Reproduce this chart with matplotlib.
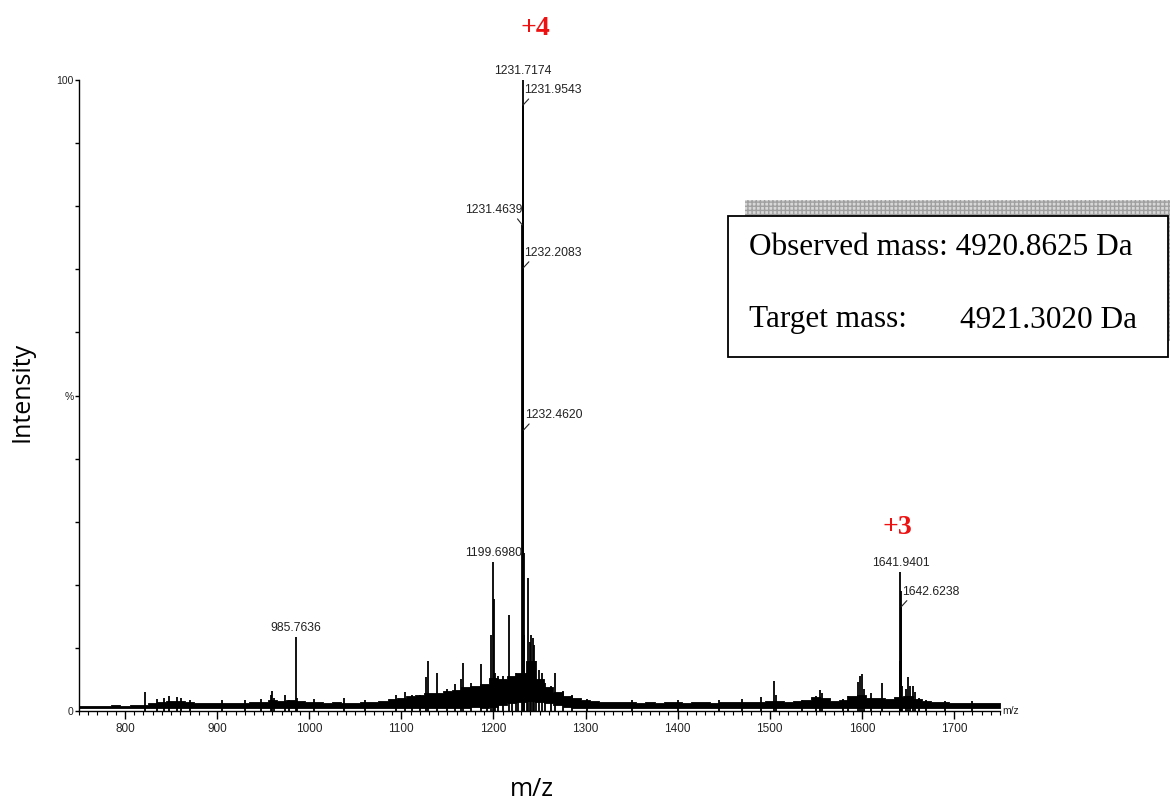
import numpy as np
import matplotlib
matplotlib.use("Agg")
import matplotlib.pyplot as plt
from matplotlib.patches import Rectangle

# ---------------------------------------------------------------------------
# Spectrum data
# ---------------------------------------------------------------------------

# baseline noise envelope, every 10 m/z from 750 to 1750 (% intensity)
noise_mz = list(range(750, 1751, 10))
noise_hi = [
    0.8, 0.8, 0.8, 0.8, 0.9, 0.8, 0.9, 0.9, 1.3, 1.4,   # 750-840
    1.6, 1.6, 1.4, 1.3, 1.3, 1.2, 1.3, 1.2, 1.3, 1.4,   # 850-940
    1.5, 1.8, 1.6, 1.7, 1.6, 1.5, 1.4, 1.3, 1.4, 1.3,   # 950-1040
    1.3, 1.4, 1.5, 1.6, 1.9, 2.1, 2.3, 2.5, 2.8, 2.9,   # 1050-1140
    3.2, 3.3, 3.8, 3.9, 4.2, 5.2, 5.0, 5.5, 6.0, 8.0,   # 1150-1240
    5.0, 3.8, 3.0, 2.4, 2.0, 1.7, 1.6, 1.5, 1.4, 1.4,   # 1250-1340
    1.4, 1.3, 1.4, 1.3, 1.4, 1.4, 1.3, 1.4, 1.4, 1.3,   # 1350-1440
    1.4, 1.4, 1.5, 1.4, 1.5, 1.6, 1.6, 1.5, 1.6, 1.7,   # 1450-1540
    2.2, 2.0, 1.6, 1.7, 2.3, 2.5, 2.1, 2.0, 1.9, 2.2,   # 1550-1640
    2.4, 1.9, 1.6, 1.5, 1.4, 1.3, 1.3, 1.3, 1.3, 1.3,   # 1650-1740
    1.2,                                                # 1750
]
noise_lo = [
    0.4, 0.4, 0.4, 0.4, 0.4, 0.4, 0.4, 0.4, 0.4, 0.4,
    0.4, 0.4, 0.4, 0.4, 0.4, 0.4, 0.4, 0.4, 0.4, 0.4,
    0.4, 0.4, 0.4, 0.4, 0.4, 0.4, 0.4, 0.4, 0.4, 0.4,
    0.4, 0.4, 0.4, 0.4, 0.4, 0.4, 0.4, 0.4, 0.4, 0.4,
    0.4, 0.4, 0.5, 0.6, 0.5, 0.6, 0.9, 1.2, 1.5, 1.6,
    1.5, 1.2, 0.9, 0.6, 0.5, 0.4, 0.4, 0.4, 0.4, 0.4,
    0.4, 0.4, 0.4, 0.4, 0.4, 0.4, 0.4, 0.4, 0.4, 0.4,
    0.4, 0.4, 0.4, 0.4, 0.4, 0.4, 0.4, 0.4, 0.4, 0.4,
    0.4, 0.4, 0.4, 0.4, 0.4, 0.4, 0.4, 0.4, 0.4, 0.4,
    0.4, 0.4, 0.4, 0.4, 0.4, 0.4, 0.4, 0.4, 0.4, 0.4,
    0.4,
]

# individual peaks / spikes (m/z, % intensity)
peak_mz = [
    822, 835, 842, 848, 856, 861, 870, 905, 930, 948,
    958, 960, 962, 974, 978, 985.7636, 987,
    1005, 1038, 1060, 1094, 1104, 1112, 1120,
    1127, 1129, 1139, 1150, 1158, 1165, 1167, 1176, 1186, 1193,
    1197, 1199.6980, 1200.5, 1202, 1205, 1210, 1217, 1220, 1225, 1227,
    1231.4639, 1231.7174, 1231.9543, 1232.2083, 1232.4620, 1232.71, 1232.97,
    1236, 1238, 1240, 1241, 1243, 1244, 1246, 1249, 1253, 1256, 1262, 1267,
    1275, 1285,
    1302, 1350, 1400, 1445, 1470, 1490, 1505, 1507, 1535, 1550, 1555, 1557,
    1580, 1585, 1596, 1598, 1600, 1602, 1610, 1622,
    1641.6, 1641.9401, 1642.28, 1642.6238, 1642.95, 1643.3,
    1648, 1650, 1652, 1655, 1658, 1662, 1670, 1690, 1720,
]
peak_int = [
    3.0, 1.9, 2.0, 2.3, 2.2, 2.1, 1.8, 1.7, 1.8, 1.9,
    2.6, 3.2, 2.0, 2.5, 1.8, 11.7, 2.0,
    1.9, 2.0, 1.7, 2.5, 3.0, 2.5, 2.6,
    5.4, 8.0, 6.0, 3.5, 4.2, 5.0, 7.6, 4.5, 7.4, 4.0,
    12.0, 23.6, 17.7, 6.0, 5.5, 5.5, 15.2, 5.0, 6.0, 4.5,
    77.0, 100.0, 96.0, 70.2, 44.5, 25.0, 12.0,
    6.0, 21.0, 11.0, 12.0, 11.5, 10.5, 8.0, 6.5, 6.0, 4.5, 4.0, 6.0,
    3.2, 2.5,
    1.9, 1.7, 1.7, 1.8, 1.9, 2.2, 4.7, 2.5, 1.8, 2.3, 3.3, 2.8,
    1.9, 2.4, 4.6, 5.5, 5.9, 3.5, 2.8, 4.4,
    8.0, 22.0, 19.0, 16.5, 9.0, 4.0,
    3.5, 5.4, 4.0, 4.0, 3.0, 2.0, 1.8, 1.6, 1.6,
]

# peak labels: m/z, intensity, how the label sits
label_mz = [1231.7174, 1231.9543, 1231.4639, 1232.2083, 1232.4620,
            1199.6980, 985.7636, 1641.9401, 1642.6238]
label_int = [100.0, 96.0, 77.0, 70.2, 44.5, 23.6, 11.7, 22.0, 16.5]
label_side = ["top", "right", "left", "right", "right",
              "top", "top", "top", "right"]

# charge state markers
charge_text = ["+4", "+3"]
charge_mz = [1231.7174, 1641.9401]
charge_int = [100.0, 22.0]
charge_offset = [(9, 37), (-2, 32)]   # points, text centre relative to peak top


# ---------------------------------------------------------------------------
# Figure
# ---------------------------------------------------------------------------

fig = plt.figure(figsize=(11.70, 8.02), dpi=100)
ax = fig.add_axes([79 / 1170, 91 / 802, 921 / 1170, 631 / 802])

ax.fill_between(noise_mz, noise_lo, noise_hi, step="mid",
                color="black", linewidth=0.6)
ax.vlines(peak_mz, 0, peak_int, color="black", linewidth=1.3)

ax.set_xlim(750, 1750)
ax.set_ylim(0, 100)

for side in ("top", "right"):
    ax.spines[side].set_visible(False)
ax.spines["left"].set_linewidth(1.0)
ax.spines["bottom"].set_linewidth(1.0)

small = dict(family="Liberation Sans", color="#222222")

ax.set_xticks(np.arange(800, 1701, 100))
ax.set_xticks(np.arange(750, 1751, 10), minor=True)
ax.set_xticklabels([str(v) for v in range(800, 1701, 100)],
                   fontsize=8.5, **small)
ax.tick_params(axis="x", which="major", direction="out", length=6, width=1, pad=3)
ax.tick_params(axis="x", which="minor", direction="out", length=3, width=0.8)

ax.set_yticks(np.arange(0, 101, 10))
ax.set_yticklabels(["0", "", "", "", "", "%", "", "", "", "", "100"],
                   fontsize=7.5, **small)
ax.tick_params(axis="y", direction="out", length=3, width=1, pad=1)

ax.text(1753, 0, "m/z", fontsize=7.5, va="center", ha="left", **small)

# peak labels with short leader lines
lab_fs = 8.8
for mz, h, side in zip(label_mz, label_int, label_side):
    txt = f"{mz:.4f}"
    if side == "top":
        ax.annotate(txt, (mz, h), xytext=(0, 2), textcoords="offset points",
                    ha="center", va="bottom", fontsize=lab_fs,
                    annotation_clip=False, **small)
    elif side == "right":
        ax.annotate(txt, (mz, h), xytext=(1, 6.5), textcoords="offset points",
                    ha="left", va="bottom", fontsize=lab_fs,
                    annotation_clip=False,
                    arrowprops=dict(arrowstyle="-", color="#222222", lw=0.8,
                                    shrinkA=0, shrinkB=0, relpos=(0.14, 0.1)),
                    **small)
    else:
        ax.annotate(txt, (mz, h), xytext=(0, 6.5), textcoords="offset points",
                    ha="right", va="bottom", fontsize=lab_fs,
                    annotation_clip=False,
                    arrowprops=dict(arrowstyle="-", color="#222222", lw=0.8,
                                    shrinkA=0, shrinkB=0, relpos=(0.86, 0.1)),
                    **small)

# charge states in red
for txt, mz, h, off in zip(charge_text, charge_mz, charge_int, charge_offset):
    ax.annotate(txt, (mz, h), xytext=off, textcoords="offset points",
                ha="center", va="center", fontsize=20, fontweight="bold",
                family="Liberation Serif", color="#ee1111",
                annotation_clip=False)

# axis titles
fig.text(22 / 1170, 1 - 392 / 802, "Intensity", rotation=90, ha="center",
         va="center", fontsize=18, family="Open Sans")
fig.text(532 / 1170, 1 - 790 / 802, "m/z", ha="center", va="center",
         fontsize=18, family="Open Sans")

# info box with hatched shadow
shadow = Rectangle((745 / 1170, 1 - 357 / 802 + 16 / 802), 440 / 1170, 141 / 802,
                   transform=fig.transFigure, facecolor="#d8d8d8",
                   edgecolor="#a0a0a0", hatch="++++", linewidth=0, zorder=1)
box = Rectangle((728 / 1170, 1 - 357 / 802), 440 / 1170, 141 / 802,
                transform=fig.transFigure, facecolor="white",
                edgecolor="black", linewidth=1.3, zorder=2)
fig.patches.extend([shadow, box])

serif = dict(family="Liberation Serif", fontsize=22.5, va="center", zorder=3)
fig.text(749 / 1170, 1 - 247 / 802, "Observed mass: 4920.8625 Da",
         ha="left", **serif)
fig.text(749 / 1170, 1 - 320 / 802, "Target mass:", ha="left", **serif)
fig.text(960 / 1170, 1 - 320 / 802, "4921.3020 Da", ha="left", **serif)

fig.savefig("out.png", dpi=100)
